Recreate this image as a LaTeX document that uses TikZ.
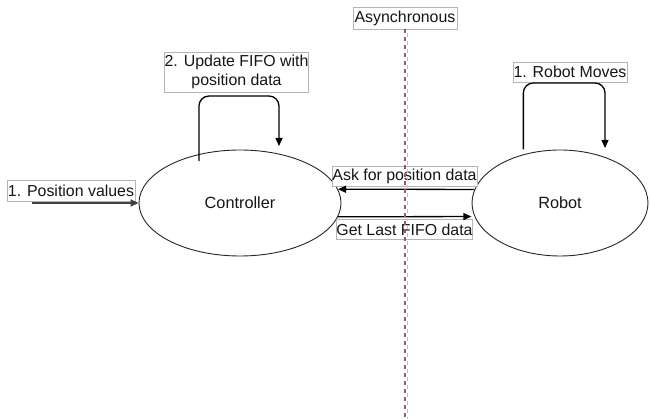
\documentclass[tikz,border=0pt]{standalone}
\usepackage{fontspec}
\setmainfont{Liberation Sans}
\usetikzlibrary{shapes.geometric,arrows.meta,calc}

\definecolor{inkgray}{HTML}{161616}
\definecolor{boxgray}{HTML}{B4B4B4}
\definecolor{dashred}{HTML}{A05858}
\definecolor{dashgray}{HTML}{C4C4C4}

\begin{document}
\begin{tikzpicture}[x=1pt,y=-1pt,
  state/.style={ellipse, draw=black!85, line width=0.9pt, inner sep=0pt,
    font=\fontsize{16.3}{19}\selectfont, text=inkgray},
  tag/.style={draw=boxgray, line width=0.7pt, fill=white, inner sep=0pt,
    font=\fontsize{15.9}{18.5}\selectfont, text=inkgray, align=center},
  flow/.style={line width=1.3pt, -{Triangle[length=8pt,width=7pt]}},
  selfloop/.style={flow, rounded corners=10pt},
]
\useasboundingbox (0,0) rectangle (650,419);

% the two processes
\node[state, minimum width=202pt, minimum height=106pt] (ctrl) at (240,203) {Controller};
\node[state, minimum width=176pt, minimum height=106pt] (robot) at (560,203) {Robot};

% labels
\node[tag, minimum width=104pt, minimum height=22pt] (async) at (405,18) {Asynchronous};
\node[tag, minimum width=144pt, minimum height=40pt] (upd) at (236.5,72) {2. Update FIFO with\\position data};
\node[tag, minimum width=114pt, minimum height=20pt] (moves) at (570,72) {1. Robot Moves};
\node[tag, minimum width=128pt, minimum height=21pt] (posv) at (71,190.5) {1. Position values};
\node[tag, minimum width=145pt, minimum height=20pt] (ask) at (404.5,176) {Ask for position data};
\node[tag, minimum width=135pt, minimum height=20pt] (last) at (404.5,229.5) {Get Last FIFO data};

% input to the controller
\coordinate (feed) at (32,203);
\draw[flow, draw=black!75, line width=1.8pt] (feed) -- (ctrl.west);

% request / reply between controller and robot
\draw[flow] (robot.171) -- (ctrl.8);
\draw[flow, shorten >=3pt] (ctrl.-8) -- (robot.189);

% self loops
\coordinate (ctop) at (279,96);
\coordinate (cin) at (279,146);
\draw[selfloop] ($(ctrl.130)+(0,7)$) |- (ctop) -- (cin);

\coordinate (rtop) at (605,83);
\coordinate (rin) at (605,148);
\draw[selfloop] ($(robot.127)+(0,-5)$) |- (rtop) -- (rin);

% asynchronous boundary
\coordinate (dbot) at (405,419);
\draw[dashred, line width=1.2pt, dash pattern=on 4pt off 4pt]
  (async.south) -- (async.south |- dbot);
\draw[dashgray, line width=1pt, dash pattern=on 4pt off 4pt, dash phase=4pt]
  ($(async.south)+(2.5,0)$) -- ($(async.south |- dbot)+(2.5,0)$);
\end{tikzpicture}
\end{document}
